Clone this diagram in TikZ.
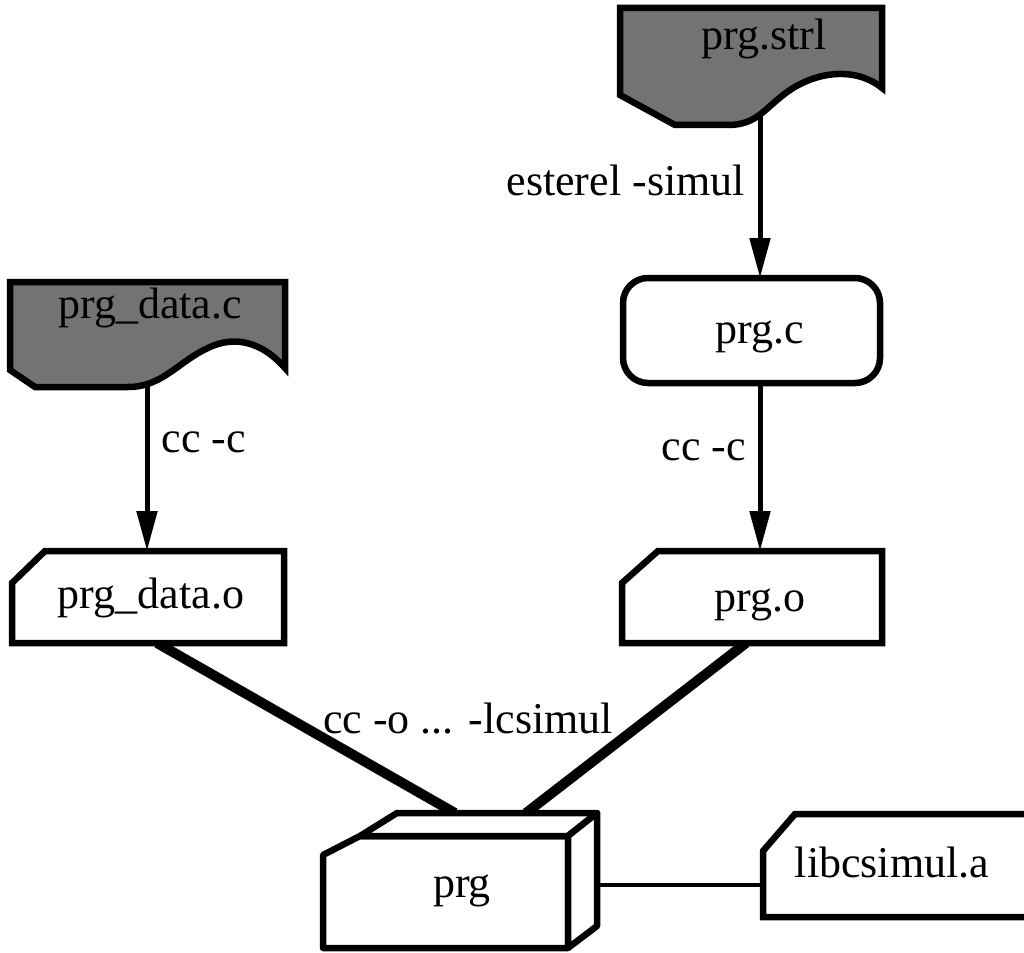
\documentclass[tikz,border=0pt]{standalone}
\usepackage{fontspec}
\setmainfont{Liberation Serif}
\usetikzlibrary{arrows.meta}
\begin{document}
\begin{tikzpicture}[x=1pt,y=-1pt,
  outline/.style={draw=black,line width=6.5pt,line join=miter,fill=white},
  docfile/.style={outline,fill=black!55},
  lbl/.style={font=\fontsize{44}{52}\selectfont,inner sep=0pt,anchor=base},
  flow/.style={line width=5pt,-{Triangle[length=40pt,width=20pt]}},
  link/.style={line width=10pt},
  thinlink/.style={line width=4.5pt}]
\clip (0,0) rectangle (1024,952);

% connection points
\coordinate (strl-out) at (760,105);
\coordinate (prgc-in) at (760,278);
\coordinate (prgc-out) at (760,383);
\coordinate (prgo-in) at (760,551);
\coordinate (datac-out) at (147,382);
\coordinate (datao-in) at (147,551);
\coordinate (datao-out) at (157,643);
\coordinate (prgo-out) at (746,643);
\coordinate (prg-in-l) at (455,813);
\coordinate (prg-in-r) at (526,813);
\coordinate (prg-side) at (597,885);
\coordinate (lib-in) at (763,885);

% connectors
\draw[flow] (strl-out) -- (prgc-in);
\draw[flow] (prgc-out) -- (prgo-in);
\draw[flow] (datac-out) -- (datao-in);
\draw[link] (datao-out) -- (prg-in-l);
\draw[link] (prgo-out) -- (prg-in-r);
\draw[thinlink] (prg-side) -- (lib-in);

% source files (shaded documents)
\draw[docfile] (620,8) -- (882,8) -- (882,88)
  .. controls (858,68) and (820,70) .. (790,90)
  .. controls (765,107) and (758,125) .. (728,125)
  -- (675,125) -- (620,95) -- cycle;
\node[lbl] (strl) at (764,50) {prg.strl};

\draw[docfile] (10,282) -- (285,282) -- (285,368)
  .. controls (265,345) and (240,336) .. (215,345)
  .. controls (180,358) and (165,387) .. (128,387)
  -- (35,387) -- (10,370) -- cycle;
\node[lbl] (datac) at (150,318) {prg\_data.c};

% generated C file
\draw[outline,rounded corners=25pt] (623,278) rectangle (880,383);
\node[lbl] (prgc) at (760,343) {prg.c};

% object files
\draw[outline] (12,583) -- (45,551) -- (284,551) -- (284,643) -- (12,643) -- cycle;
\node[lbl] (datao) at (151,608) {prg\_data.o};

\draw[outline] (622,583) -- (658,551) -- (882,551) -- (882,643) -- (622,643) -- cycle;
\node[lbl] (prgo) at (760,611) {prg.o};

% library
\draw[outline] (763,917) -- (763,851) -- (795,814) -- (1040,814) -- (1040,917) -- cycle;
\node[lbl] (lib) at (892,877) {libcsimul.a};

% executable (box)
\begin{scope}[line join=round]
\draw[outline,line join=round] (323,948) -- (323,855) -- (360,836) -- (568,836) -- (568,948) -- cycle;
\draw[outline,line join=round] (360,836) -- (397,813) -- (597,813) -- (568,836) -- cycle;
\draw[outline,line join=round] (568,836) -- (597,813) -- (597,926) -- (568,948) -- cycle;
\end{scope}
\node[lbl] (prg) at (462,897) {prg};

% command labels
\node[lbl,anchor=base east] (cmd-esterel) at (745,195) {esterel -simul};
\node[lbl] (cmd-cc1) at (704,460) {cc -c};
\node[lbl] (cmd-cc2) at (204,452) {cc -c};
\node[lbl] (cmd-link) at (468,733) {cc -o ... -lcsimul};
\end{tikzpicture}
\end{document}
